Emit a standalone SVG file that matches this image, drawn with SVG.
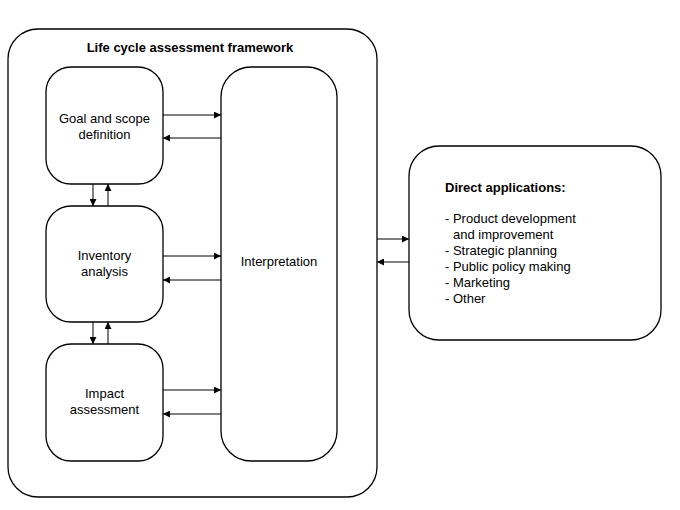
<svg xmlns="http://www.w3.org/2000/svg" width="680" height="510" viewBox="0 0 680 510">
<style>
.b{fill:#fff;stroke:#000;stroke-width:1.3}
text{font-family:"Liberation Sans",Arial,sans-serif;font-size:13px;fill:#000}
.c line{stroke:#000;stroke-width:1;marker-end:url(#a)}
</style>
<defs><marker id="a" viewBox="0 0 10 10" refX="10" refY="5" markerWidth="10" markerHeight="7" markerUnits="userSpaceOnUse" orient="auto"><path d="M0,0L10,5L0,10z"/></marker></defs>
<rect width="680" height="510" fill="#fff"/>
<g id="frame"><rect class="b" x="8" y="29" width="369" height="468" rx="30"/>
<text x="190" y="52" text-anchor="middle" font-weight="bold">Life cycle assessment framework</text></g>
<g id="goal"><rect class="b" x="46" y="67" width="117" height="117" rx="25"/>
<text x="104.5" y="123" text-anchor="middle">Goal and scope</text><text x="104.5" y="139" text-anchor="middle">definition</text></g>
<g id="inventory"><rect class="b" x="46" y="206" width="117" height="116" rx="25"/>
<text x="104.5" y="260" text-anchor="middle">Inventory</text><text x="104.5" y="276" text-anchor="middle">analysis</text></g>
<g id="impact"><rect class="b" x="46" y="344" width="117" height="117" rx="25"/>
<text x="104.5" y="398" text-anchor="middle">Impact</text><text x="104.5" y="414" text-anchor="middle">assessment</text></g>
<g id="interpretation"><rect class="b" x="221" y="67" width="116" height="394" rx="30"/>
<text x="279" y="266" text-anchor="middle">Interpretation</text></g>
<g id="direct"><rect class="b" x="409" y="146" width="252" height="194" rx="30"/>
<text x="445" y="192" font-weight="bold">Direct applications:</text>
<text x="445" y="223">- Product development</text>
<text x="453" y="239">and improvement</text>
<text x="445" y="255">- Strategic planning</text>
<text x="445" y="271">- Public policy making</text>
<text x="445" y="287">- Marketing</text>
<text x="445" y="303">- Other</text></g>
<g class="c" id="connectors">
<line x1="163" y1="115" x2="221" y2="115"/><line x1="221" y1="138" x2="163" y2="138"/>
<line x1="163" y1="256" x2="221" y2="256"/><line x1="221" y1="280" x2="163" y2="280"/>
<line x1="163" y1="390" x2="221" y2="390"/><line x1="221" y1="414" x2="163" y2="414"/>
<line x1="93" y1="184" x2="93" y2="206"/><line x1="108" y1="206" x2="108" y2="184"/>
<line x1="93" y1="322" x2="93" y2="344"/><line x1="108" y1="344" x2="108" y2="322"/>
<line x1="377" y1="239" x2="409" y2="239"/><line x1="409" y1="262" x2="377" y2="262"/>
</g>
</svg>
